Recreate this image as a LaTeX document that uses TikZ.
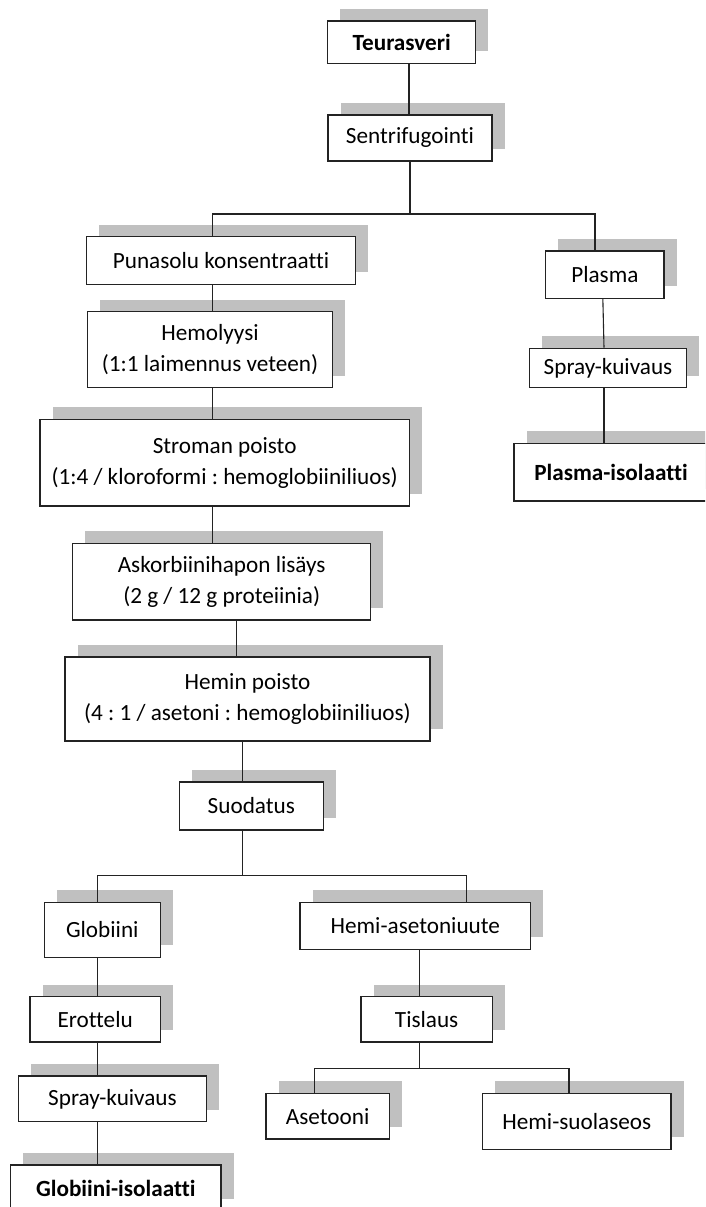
\documentclass[tikz,border=0pt]{standalone}
\usepackage{fontspec}
\setmainfont{Carlito}[Ligatures={NoCommon}]
\usetikzlibrary{shadows}
\definecolor{shadowgray}{RGB}{192,192,192}
\definecolor{linecol}{RGB}{35,35,35}
\tikzset{
  box/.style={draw=linecol, line width=1.2pt, fill=white, inner sep=0pt, align=center,
    font=\fontsize{23.2}{31}\selectfont, text=black,
    drop shadow={shadow xshift=12.5pt, shadow yshift=12pt, fill=shadowgray, opacity=1}},
  bbox/.style={box, font=\fontsize{23.2}{31}\selectfont\bfseries},
  conn/.style={draw=linecol, line width=1.1pt}
}
\begin{document}
\frenchspacing
\begin{tikzpicture}[x=1pt,y=-1pt]
\useasboundingbox (0,0) rectangle (705,1207);
\clip (0,0) rectangle (705,1207);
% nodes
\node[bbox, minimum width=148pt, minimum height=42.3pt] (teu) at (401.7,42.2) {Teurasveri};
\node[box, minimum width=164pt, minimum height=46pt] (sen) at (410,138) {Sentrifugointi};
\node[box, minimum width=268.6pt, minimum height=47.6pt] (pun) at (221,260.5) {Punasolu konsentraatti};
\node[box, minimum width=118.3pt, minimum height=47.3pt] (pla) at (604.85,274.7) {Plasma};
\node[box, minimum width=245.4pt, minimum height=76pt] (hemo) at (210,349.5) {Hemolyysi\\(1:1 laimennus veteen)};
\node[box, minimum width=157.4pt, minimum height=39.4pt] (sprR) at (608,368) {Spray-kuivaus};
\node[bbox, minimum width=194pt, minimum height=57.7pt] (pis) at (611,472.2) {Plasma-isolaatti};
\node[box, minimum width=369.3pt, minimum height=86.7pt] (str) at (224.65,462.65) {Stroman poisto\\(1:4 / kloroformi : hemoglobiiniliuos)};
\node[box, minimum width=298pt, minimum height=76.7pt] (ask) at (221.7,581.65) {Askorbiinihapon lisäys\\(2 g / 12 g proteiinia)};
\node[box, minimum width=365pt, minimum height=84pt] (hep) at (247.5,699) {Hemin poisto\\(4 : 1 / asetoni : hemoglobiiniliuos)};
\node[box, minimum width=144pt, minimum height=48pt] (suo) at (251.3,806) {Suodatus};
\node[box, minimum width=116pt, minimum height=55pt] (glo) at (102.3,929.8) {Globiini};
\node[box, minimum width=230.7pt, minimum height=47pt] (hea) at (415.35,925.8) {Hemi-asetoniuute};
\node[box, minimum width=130.3pt, minimum height=45.3pt] (ero) at (95.15,1019.35) {Erottelu};
\node[box, minimum width=131.3pt, minimum height=45.3pt] (tis) at (426.65,1019.35) {Tislaus};
\node[box, minimum width=188.4pt, minimum height=45.7pt] (sprL) at (112.5,1098.85) {Spray-kuivaus};
\node[box, minimum width=123.3pt, minimum height=45.7pt] (ase) at (327.65,1116.15) {Asetooni};
\node[box, minimum width=188.3pt, minimum height=56pt] (hsu) at (576.85,1121.3) {Hemi-suolaseos};
\node[bbox, minimum width=210.5pt, minimum height=46pt] (gis) at (115.75,1188) {Globiini-isolaatti};
% helper coordinates for connector lines
\coordinate (xa) at (409,0);
\coordinate (j1) at (410,214);
\coordinate (xb) at (212.7,0);
\coordinate (xc) at (595,0);
\coordinate (xd) at (236.7,0);
\coordinate (xe) at (242.3,0);
\coordinate (j2) at (242.3,875.5);
\coordinate (xf) at (97.7,0);
\coordinate (xg) at (466.7,0);
\coordinate (xh) at (419.3,0);
\coordinate (j3) at (419.3,1068.7);
\coordinate (xi) at (314.3,0);
\coordinate (xj) at (569,0);
% connectors
\draw[conn] (teu.south -| xa) -- (sen.north -| xa);
\draw[conn] (sen.south) -- (j1);
\draw[conn] (pun.north -| xb) |- (j1) -| (pla.north -| xc);
\draw[conn] (pun.south -| xb) -- (hemo.north -| xb);
\draw[conn] ([xshift=-2pt]pla.south) -- ([xshift=-4pt]sprR.north);
\draw[conn] ([xshift=-4pt]sprR.south) -- ([xshift=-7pt]pis.north);
\draw[conn] (hemo.south -| xb) -- (str.north -| xb);
\draw[conn] (str.south -| xb) -- (ask.north -| xb);
\draw[conn] (ask.south -| xd) -- (hep.north -| xd);
\draw[conn] (hep.south -| xe) -- (suo.north -| xe);
\draw[conn] (suo.south -| xe) -- (j2);
\draw[conn] (glo.north -| xf) |- (j2) -| (hea.north -| xg);
\draw[conn] (glo.south -| xf) -- (ero.north -| xf);
\draw[conn] (ero.south -| xf) -- (sprL.north -| xf);
\draw[conn] (sprL.south -| xf) -- (gis.north -| xf);
\draw[conn] (hea.south -| xh) -- (tis.north -| xh);
\draw[conn] (tis.south -| xh) -- (j3);
\draw[conn] (ase.north -| xi) |- (j3) -| (hsu.north -| xj);
\end{tikzpicture}
\end{document}
